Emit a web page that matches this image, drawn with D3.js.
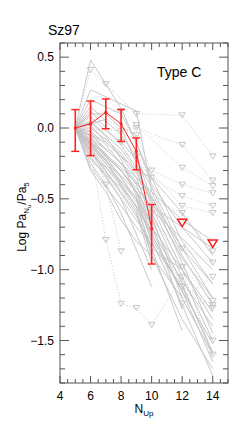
<!DOCTYPE html>
<html>
<head>
<meta charset="utf-8">
<script src="https://cdn.jsdelivr.net/npm/d3@7"></script>
<style>
  body { margin: 0; background: #fff; }
  text, tspan { font-family: 'Liberation Sans', Arial, sans-serif; fill: #000; }
</style>
</head>
<body>
<div id="chart"></div>
<script>
// mean of the sample, with error bars
const meanN = [5, 6, 7, 8, 9, 10]
const meanLog = [0, 0.03, 0.11, 0.03, -0.165, -0.71]
const errUp = [0.13, 0.16, 0.095, 0.10, 0.095, 0.17]
const errDown = [0.165, 0.225, 0.115, 0.125, 0.13, 0.25]
// mean upper limits
const meanLimN = [12, 14]
const meanLimLog = [-0.668, -0.815]

// individual sources: [N_up, log ratio, 1 = upper limit]
const sources = [
  [[5, 0], [6, 0.48], [8, 0.14], [10, -0.35], [12, -0.8], [14, -1.1]],
  [[5, 0], [6, 0.27], [9, 0.12], [10, -0.45], [12, -0.9], [14, -1.25]],
  [[5, 0], [6, 0.2], [7, 0.15], [8, 0.1], [9, -0.1], [10, -0.4], [12, -0.7], [14, -0.95]],
  [[5, 0], [6, 0.15], [7, 0.05], [8, -0.05], [9, -0.2], [10, -0.5], [12, -0.85], [14, -1.2]],
  [[5, 0], [6, 0.1], [7, 0.1], [8, 0.0], [9, -0.25], [10, -0.55], [12, -1.0], [14, -1.35]],
  [[5, 0], [6, 0.05], [7, -0.05], [8, -0.15], [9, -0.3], [10, -0.6], [12, -1.05], [14, -1.5]],
  [[5, 0], [6, 0.02], [7, -0.1], [8, -0.2], [9, -0.35], [10, -0.65], [12, -1.1], [14, -1.6]],
  [[5, 0], [6, -0.03], [7, -0.15], [8, -0.25], [9, -0.4], [10, -0.7], [12, -1.0], [14, -1.3]],
  [[5, 0], [6, -0.06], [7, -0.2], [8, -0.3], [9, -0.45], [10, -0.75], [12, -1.15], [14, -1.65]],
  [[5, 0], [6, -0.1], [7, -0.2], [8, -0.35], [9, -0.5], [10, -0.8], [12, -1.25], [14, -1.75]],
  [[5, 0], [6, -0.12], [7, -0.25], [8, -0.4], [9, -0.55], [10, -0.85], [12, -1.43]],
  [[5, 0], [6, -0.15], [7, -0.3], [8, -0.45], [9, -0.6], [10, -0.95]],
  [[5, 0], [6, -0.2], [7, -0.35], [8, -0.5], [10, -1.0]],
  [[5, 0], [6, -0.25], [7, -0.4], [8, -0.6], [10, -1.12]],
  [[5, 0], [6, -0.3], [7, -0.45], [8, -0.65], [9, -0.8], [10, -0.9]],
  [[5, 0], [6, -0.1], [8, -0.3], [10, -0.55], [12, -0.7], [14, -0.85]],
  [[5, 0], [6, -0.05], [8, -0.25], [10, -0.45], [12, -0.65], [14, -0.8]],
  [[5, 0], [7, -0.1], [9, -0.3], [10, -0.35], [12, -0.6], [14, -0.9]],
  [[5, 0], [6, 0.0], [7, -0.08], [8, -0.18], [9, -0.32], [10, -0.48], [12, -0.95], [14, -1.45]],
  [[5, 0], [6, -0.08], [7, -0.18], [8, -0.3], [9, -0.45], [10, -0.62], [12, -1.2], [14, -1.6]],
  [[5, 0], [6, 0.08], [7, -0.02], [8, -0.1], [9, -0.22], [10, -0.42], [12, -0.85], [14, -1.1]],
  [[5, 0], [6, -0.18], [7, -0.28], [8, -0.38], [9, -0.52], [10, -0.68], [12, -1.28]],
  [[5, 0], [6, -0.22], [7, -0.33], [8, -0.42], [9, -0.58], [10, -0.9], [12, -1.35], [14, -1.7]],
  [[5, 0], [6, 0.12], [7, 0.0], [8, -0.12], [9, -0.28], [10, -0.52], [12, -0.92], [14, -1.2]],
  [[5, 0], [6, -0.02], [7, -0.12], [9, -0.38], [10, -0.58], [12, -0.78], [14, -1.0]],
  [[5, 0], [6, -0.28], [8, -0.55], [9, -0.7], [10, -0.82], [12, -1.12], [14, -1.58]],
  [[5, 0], [7, -0.22], [8, -0.4], [10, -0.72], [12, -1.08], [14, -1.4]],
  [[5, 0], [6, 0.04], [7, -0.06], [8, -0.22], [9, -0.48], [10, -0.78], [14, -1.52]],
  // sources with upper limits
  [[5, 0], [6, 0.41, 1], [7, 0.31, 1], [9, 0.1, 1], [12, 0.09, 1], [14, -0.2, 1]],
  [[5, 0], [6, 0.1], [8, 0.12, 1], [9, 0.02, 1], [12, -0.28, 1], [14, -0.41, 1]],
  [[5, 0], [7, 0.06], [9, -0.05, 1], [10, -0.3, 1], [12, -0.4, 1], [14, -0.46, 1]],
  [[5, 0], [6, -0.05], [8, -0.1, 1], [10, -0.35, 1], [12, -0.48, 1], [14, -0.55, 1]],
  [[5, 0], [7, -0.15], [9, -0.2, 1], [12, -0.55, 1], [14, -0.6, 1]],
  [[5, 0], [6, -0.15], [7, -0.79, 1], [8, -1.24, 1], [9, -1.27, 1], [10, -1.39, 1], [12, -1.05, 1]],
  [[5, 0], [6, -0.1], [7, -0.4, 1], [8, -0.87, 1]],
  [[5, 0], [8, -0.3], [10, -0.6, 1], [12, -0.98, 1], [14, -1.22, 1]],
  [[5, 0], [9, -0.45], [10, -0.7], [12, -1.12, 1], [14, -1.25, 1]],
  [[5, 0], [8, -0.5], [10, -0.8], [12, -1.24, 1], [14, -1.5, 1]],
  [[5, 0], [8, -0.35], [10, -0.65], [12, -0.85, 1], [14, -0.95, 1]],
  [[5, 0], [8, -0.28], [10, -0.5], [12, -0.6, 1], [14, -0.87, 1]],
  [[5, 0], [9, -0.55], [10, -0.75], [12, -1.15], [14, -1.27, 1]],
  [[5, 0], [9, -0.62], [10, -0.85], [12, -1.0], [14, -1.6, 1]],
  [[5, 0], [9, -0.5], [10, -0.9], [12, -1.2], [14, -1.05, 1]],
  [[5, 0], [8, -0.02, 1], [9, 0.0, 1], [12, -0.12, 1], [14, -0.37, 1]]
]

const xTicks = [4, 6, 8, 10, 12, 14]
const yTicks = [-1.5, -1.0, -0.5, 0.0, 0.5]

const width = 240
const height = 428
const margin = { top: 43, right: 12, bottom: 45, left: 60 }

const svg = d3.select('#chart')
  .append('svg')
  .attr('width', width)
  .attr('height', height)

const x = d3.scaleLinear().domain([4, 15]).range([margin.left, width - margin.right])
const y = d3.scaleLinear().domain([-1.8, 0.6]).range([height - margin.bottom, margin.top])

const gray = '#c2c2c2'
const axisColor = '#555'

const plot = svg.append('g')

// gray source lines: solid between detections, dotted toward limits
const segs = []
sources.forEach(s => {
  for (let i = 1; i < s.length; i++) {
    segs.push({ a: s[i - 1], b: s[i], lim: s[i][2] === 1 || s[i - 1][2] === 1 })
  }
})

plot.selectAll('.seg')
  .data(segs)
  .enter()
  .append('line')
  .attr('class', 'seg')
  .attr('x1', d => x(d.a[0]))
  .attr('y1', d => y(d.a[1]))
  .attr('x2', d => x(d.b[0]))
  .attr('y2', d => y(d.b[1]))
  .attr('stroke', gray)
  .attr('stroke-width', 0.9)
  .attr('stroke-dasharray', d => d.lim ? '1,2' : null)

const tri = r => `M${-r},${-r * 0.75}L${r},${-r * 0.75}L0,${r * 0.85}Z`

const limPts = []
sources.forEach(s => s.forEach(p => { if (p[2] === 1) limPts.push(p) }))

plot.selectAll('.lim')
  .data(limPts)
  .enter()
  .append('path')
  .attr('class', 'lim')
  .attr('d', tri(3.3))
  .attr('transform', d => `translate(${x(d[0])},${y(d[1])})`)
  .attr('fill', 'none')
  .attr('stroke', gray)
  .attr('stroke-width', 0.9)

// red mean
const red = '#ff2020'
const meanData = meanN.map((n, i) => ({ n: n, v: meanLog[i], up: errUp[i], down: errDown[i] }))

plot.append('path')
  .datum(meanData)
  .attr('d', d3.line().x(d => x(d.n)).y(d => y(d.v)))
  .attr('fill', 'none')
  .attr('stroke', red)
  .attr('stroke-width', 1)

const bars = plot.selectAll('.err')
  .data(meanData)
  .enter()
  .append('g')
  .attr('class', 'err')

bars.append('line')
  .attr('x1', d => x(d.n)).attr('x2', d => x(d.n))
  .attr('y1', d => y(d.v + d.up)).attr('y2', d => y(d.v - d.down))
  .attr('stroke', red).attr('stroke-width', 1.6)
bars.append('line')
  .attr('x1', d => x(d.n) - 4).attr('x2', d => x(d.n) + 4)
  .attr('y1', d => y(d.v + d.up)).attr('y2', d => y(d.v + d.up))
  .attr('stroke', red).attr('stroke-width', 1.4)
bars.append('line')
  .attr('x1', d => x(d.n) - 4).attr('x2', d => x(d.n) + 4)
  .attr('y1', d => y(d.v - d.down)).attr('y2', d => y(d.v - d.down))
  .attr('stroke', red).attr('stroke-width', 1.4)
bars.append('circle')
  .attr('cx', d => x(d.n)).attr('cy', d => y(d.v))
  .attr('r', 1.6).attr('fill', red)

plot.selectAll('.meanlim')
  .data(meanLimN.map((n, i) => [n, meanLimLog[i]]))
  .enter()
  .append('path')
  .attr('d', tri(4.6))
  .attr('transform', d => `translate(${x(d[0])},${y(d[1])})`)
  .attr('fill', 'none')
  .attr('stroke', red)
  .attr('stroke-width', 1.5)

// axes: ticks inward on all four sides
const x0 = margin.left, x1 = width - margin.right
const y0 = height - margin.bottom, y1 = margin.top

const axes = svg.append('g').attr('stroke', axisColor).attr('stroke-width', 1)
axes.append('rect')
  .attr('x', x0).attr('y', y1)
  .attr('width', x1 - x0).attr('height', y0 - y1)
  .attr('fill', 'none')

const xMinor = d3.range(4, 15.01, 0.5)
const yMinor = d3.range(-1.8, 0.601, 0.1)

xMinor.forEach(v => {
  const major = Math.abs(v / 2 - Math.round(v / 2)) < 1e-6
  const len = major ? 7 : 4
  axes.append('line').attr('x1', x(v)).attr('x2', x(v)).attr('y1', y0).attr('y2', y0 - len)
  axes.append('line').attr('x1', x(v)).attr('x2', x(v)).attr('y1', y1).attr('y2', y1 + len)
})
yMinor.forEach(v => {
  const major = Math.abs(v * 2 - Math.round(v * 2)) < 1e-6
  const len = major ? 9 : 5
  axes.append('line').attr('y1', y(v)).attr('y2', y(v)).attr('x1', x0).attr('x2', x0 + len)
  axes.append('line').attr('y1', y(v)).attr('y2', y(v)).attr('x1', x1).attr('x2', x1 - len)
})

const fmt = v => (v < 0 ? '\u2212' : '') + Math.abs(v).toFixed(1)

svg.selectAll('.ylab')
  .data(yTicks)
  .enter()
  .append('text')
  .attr('x', x0 - 6)
  .attr('y', d => y(d) + 4)
  .attr('text-anchor', 'end')
  .attr('font-size', 12)
  .text(fmt)

svg.selectAll('.xlab')
  .data(xTicks)
  .enter()
  .append('text')
  .attr('x', d => x(d))
  .attr('y', y0 + 17)
  .attr('text-anchor', 'middle')
  .attr('font-size', 12)
  .text(d => d)

svg.append('text')
  .attr('x', 48).attr('y', 35)
  .attr('font-size', 14)
  .text('Sz97')

svg.append('text')
  .attr('x', 157).attr('y', 77)
  .attr('font-size', 14)
  .text('Type C')

// x title N_Up
const xt = svg.append('text')
  .attr('x', (x0 + x1) / 2)
  .attr('y', 413)
  .attr('text-anchor', 'middle')
  .attr('font-size', 12)
  .attr('fill', '#000')
xt.append('tspan').attr('fill', '#000').text('N')
xt.append('tspan').attr('fill', '#000').attr('font-size', 8).attr('dy', 3).text('Up')

// y title Log Pa_{N_u}/Pa_5
const yt = svg.append('text')
  .attr('transform', `translate(26,${(y0 + y1) / 2 + 4}) rotate(-90)`)
  .attr('text-anchor', 'middle')
  .attr('font-size', 12)
yt.append('tspan').text('Log Pa')
yt.append('tspan').attr('font-size', 8).attr('dy', 3).text('N')
yt.append('tspan').attr('font-size', 6).attr('dy', 2).text('u')
yt.append('tspan').attr('font-size', 12).attr('dy', -5).text('/Pa')
yt.append('tspan').attr('font-size', 8).attr('dy', 3).text('5')
</script>
</body>
</html>
